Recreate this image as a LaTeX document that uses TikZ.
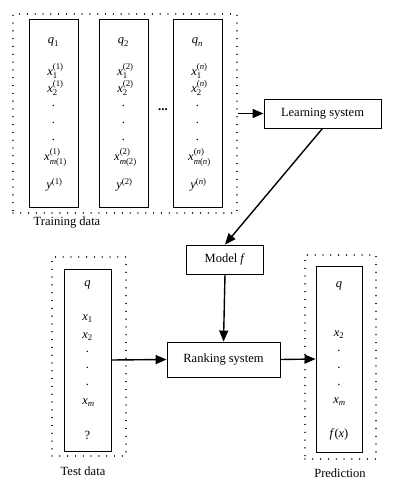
\documentclass[tikz,border=0pt]{standalone}
\usepackage{amsmath}
\usepackage{fontspec}
\setmainfont{Liberation Serif}
\usetikzlibrary{arrows.meta}
\tikzset{
  solidbox/.style={draw, line width=0.9pt, inner sep=0pt},
  dotbox/.style={draw, line width=1.3pt, dash pattern=on 0.01pt off 7.8pt, line cap=round, inner sep=0pt},
  procbox/.style={draw, line width=0.9pt, inner sep=0pt, font=\fontsize{12.5}{14}\selectfont},
  lbl/.style={inner sep=0pt, font=\fontsize{12.5}{14}\selectfont},
  ent/.style={inner sep=0pt, font=\fontsize{12.5}{14}\selectfont},
  flow/.style={line width=1.4pt, -{Triangle[length=11pt,width=9pt]}}
}
\newcommand\xx[2]{$\textit{x}_{\text{#1}}^{\text{#2}}$}
\begin{document}
\begin{tikzpicture}[x=1pt,y=-1pt]
\useasboundingbox (0,0) rectangle (401,487);
% training data
\node[dotbox, minimum width=224pt, minimum height=199pt] (train) at (125,113.5) {};
\node[solidbox, minimum width=49pt, minimum height=188pt] (c1) at (53.5,113) {};
\node[solidbox, minimum width=49pt, minimum height=188pt] (c2) at (123.5,113) {};
\node[solidbox, minimum width=49pt, minimum height=188pt] (c3) at (197.5,113) {};
\foreach \c/\cx/\k in {a/53.5/1, b/123.5/2}{
  \node[ent] (q\c) at (\cx,42) {$\textit{q}_{\text{\k}}$};
  \node[ent] (xa\c) at (\cx+2,71) {\xx{1}{(\k)}};
  \node[ent] (xb\c) at (\cx+2,88) {\xx{2}{(\k)}};
  \node[ent] (da\c) at (\cx,106) {.};
  \node[ent] (db\c) at (\cx,123) {.};
  \node[ent] (dc\c) at (\cx,140) {.};
  \node[ent] (xm\c) at (\cx+2,157) {$\textit{x}_{\textit{m}\text{(\k)}}^{\text{(\k)}}$};
  \node[ent] (y\c) at (\cx+1,185) {$\textit{y}^{\text{(\k)}}$};
}
\node[ent] (qc) at (197.5,42) {$\textit{q}_{\textit{n}}$};
\node[ent] (xac) at (199.5,71) {$\textit{x}_{\text{1}}^{\text{(}\textit{n}\text{)}}$};
\node[ent] (xbc) at (199.5,88) {$\textit{x}_{\text{2}}^{\text{(}\textit{n}\text{)}}$};
\node[ent] (dac) at (197.5,106) {.};
\node[ent] (dbc) at (197.5,123) {.};
\node[ent] (dcc) at (197.5,140) {.};
\node[ent] (xmc) at (199.5,157) {$\textit{x}_{\textit{m}\text{(}\textit{n}\text{)}}^{\text{(}\textit{n}\text{)}}$};
\node[ent] (yc) at (198.5,185) {$\textit{y}^{\text{(}\textit{n}\text{)}}$};
\node[lbl, font=\fontsize{13}{14}\selectfont\bfseries] (ell) at (163,110) {...};
\node[lbl] (traintxt) at (67,223) {Training data};
% learning system
\node[procbox, minimum width=117pt, minimum height=29pt] (learn) at (322.5,113.5) {Learning system};
\node[procbox, minimum width=77pt, minimum height=29pt] (model) at (225,259.5) {Model \textit{f}};
\node[procbox, minimum width=113pt, minimum height=35pt] (rank) at (223.5,359.5) {Ranking system};
% test data
\node[dotbox, minimum width=74pt, minimum height=199pt] (test) at (89,356.5) {};
\node[solidbox, minimum width=47pt, minimum height=182pt] (tin) at (87.5,360) {};
\node[ent] (tq) at (87.5,285) {$\textit{q}$};
\node[ent] (tx1) at (87.5,319) {$\textit{x}_{\text{1}}$};
\node[ent] (tx2) at (87.5,337) {$\textit{x}_{\text{2}}$};
\node[ent] (td1) at (87.5,352) {.};
\node[ent] (td2) at (87.5,368) {.};
\node[ent] (td3) at (87.5,385) {.};
\node[ent] (txm) at (88.5,403) {$\textit{x}_{\textit{m}}$};
\node[ent] (tqm) at (87.5,435) {?};
\node[lbl] (testtxt) at (83,471) {Test data};
% prediction
\node[dotbox, minimum width=71pt, minimum height=204pt] (pred) at (340.5,357) {};
\node[solidbox, minimum width=46pt, minimum height=186pt] (pin) at (339,359) {};
\node[ent] (pq) at (339,286) {$\textit{q}$};
\node[ent] (px2) at (339,335) {$\textit{x}_{\text{2}}$};
\node[ent] (pd1) at (339,351) {.};
\node[ent] (pd2) at (339,368) {.};
\node[ent] (pd3) at (339,385) {.};
\node[ent] (pxm) at (339.5,402) {$\textit{x}_{\textit{m}}$};
\node[ent] (pfx) at (339,434) {\textit{f}(\textit{x})};
\node[lbl] (predtxt) at (340,473) {Prediction};
% connectors
\draw[flow] (train.east) -- (learn.west);
\draw[flow] (learn.south) -- (model.north);
\draw[flow] (model.south) -- (rank.north);
\draw[flow] (tin.east) -- (rank.west);
\draw[flow] (rank.east) -- (pin.west);
\end{tikzpicture}
\end{document}
